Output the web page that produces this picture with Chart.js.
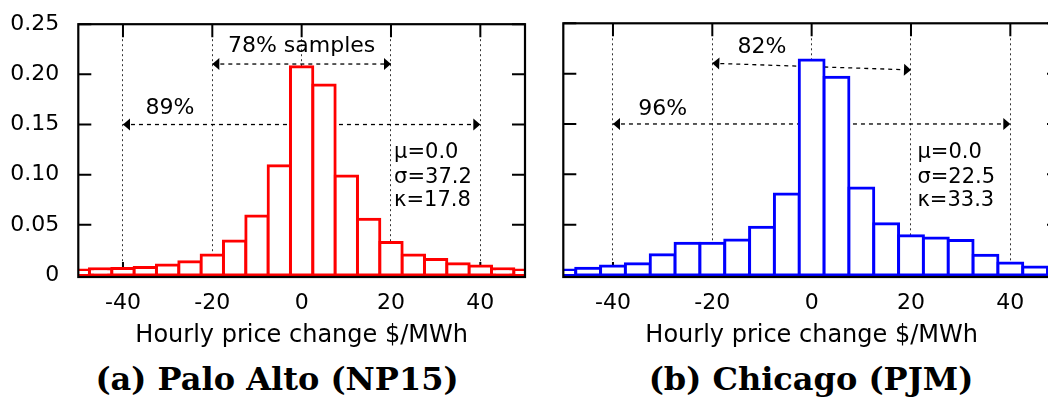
<!DOCTYPE html>
<html>
<head>
<meta charset="utf-8">
<script src="https://cdn.jsdelivr.net/npm/chart.js@4"></script>
<style>
  body { margin: 0; width: 1048px; height: 407px; overflow: hidden; position: relative; background: #fff; }
  canvas { position: absolute; top: 0; }
  #c1 { left: 0; }
  #c2 { left: 545px; }
  .cap { position: absolute; top: 361px; font: bold 32px "DejaVu Serif"; line-height: 36px; white-space: nowrap; transform: translateX(-50%); color: #000; }
</style>
</head>
<body>
<canvas id="c1" width="545" height="360"></canvas>
<canvas id="c2" width="530" height="360"></canvas>
<div class="cap" style="left:277px">(a) Palo Alto (NP15)</div>
<div class="cap" style="left:811px">(b) Chicago (PJM)</div>
<script>
// ================= DATA =================
const bins = [-50, -45, -40, -35, -30, -25, -20, -15, -10, -5, 0, 5, 10, 15, 20, 25, 30, 35, 40, 45, 50];
const paloAlto = [0.005, 0.0063, 0.0066, 0.0076, 0.0099, 0.0132, 0.020, 0.0338, 0.0589, 0.109, 0.2075,
                  0.1895, 0.0986, 0.0556, 0.0325, 0.020, 0.0155, 0.0113, 0.0089, 0.0063, 0.005];
const chicago = [0.005, 0.0066, 0.0089, 0.0112, 0.0202, 0.0315, 0.0315, 0.0348, 0.0474, 0.0805, 0.2136,
                 0.1964, 0.0863, 0.0509, 0.039, 0.0367, 0.0343, 0.0195, 0.0119, 0.0079, 0.006];

const xTicks = [-40, -20, 0, 20, 40];
const yTicks = [0, 0.05, 0.10, 0.15, 0.20, 0.25];
const yTickLabels = ["0", "0.05", "0.10", "0.15", "0.20", "0.25"];
const xTitle = "Hourly price change $/MWh";

// annotations, in data units
const paloArrows = [[-20, 0.2103, 20, 0.2103], [-40, 0.15, 40, 0.15]];
const paloNotes = [["78% samples", 0, 0.2275], ["89%", -29.5, 0.166]];
const paloStats = ["μ=0.0", "σ=37.2", "κ=17.8"];
const chiArrows = [[-20, 0.2103, 20, 0.2037], [-40, 0.15, 40, 0.15]];
const chiNotes = [["82%", -10, 0.2265], ["96%", -30, 0.165]];
const chiStats = ["μ=0.0", "σ=22.5", "κ=33.3"];
const statsY = [0.1162, 0.0914, 0.0685];

Chart.defaults.font.family = "DejaVu Sans";
Chart.defaults.color = "#000";

// ================= DRAW HELPERS =================
function head(ctx, x, y, ang) {
  const L = 7, W = 6;
  const c = Math.cos(ang), s = Math.sin(ang);
  ctx.beginPath();
  ctx.moveTo(x, y);
  ctx.lineTo(x - L * c - W * s, y - L * s + W * c);
  ctx.lineTo(x - L * c + W * s, y - L * s - W * c);
  ctx.closePath();
  ctx.fill();
}

function marks(arrows, notes, stats, statsX) {
  return {
    id: "marks",
    beforeDatasetsDraw(chart) {
      const { ctx, chartArea: a, scales: { x, y } } = chart;
      ctx.save();

      // inward tick marks
      ctx.strokeStyle = "#000";
      ctx.lineWidth = 2;
      ctx.beginPath();
      xTicks.forEach(v => {
        const px = x.getPixelForValue(v);
        ctx.moveTo(px, a.top); ctx.lineTo(px, a.top + 13);
        ctx.moveTo(px, a.bottom); ctx.lineTo(px, a.bottom - 13);
      });
      yTicks.forEach(v => {
        const py = y.getPixelForValue(v);
        ctx.moveTo(a.left, py); ctx.lineTo(a.left + 13, py);
        ctx.moveTo(a.right, py); ctx.lineTo(a.right - 13, py);
      });
      ctx.stroke();

      // dashed arrows
      ctx.fillStyle = "#000";
      arrows.forEach(([x1, y1, x2, y2]) => {
        const p1 = [x.getPixelForValue(x1), y.getPixelForValue(y1)];
        const p2 = [x.getPixelForValue(x2), y.getPixelForValue(y2)];
        ctx.lineWidth = 1.3;
        ctx.setLineDash([4, 4]);
        ctx.beginPath();
        ctx.moveTo(p1[0], p1[1]);
        ctx.lineTo(p2[0], p2[1]);
        ctx.stroke();
        ctx.setLineDash([]);
        const ang = Math.atan2(p2[1] - p1[1], p2[0] - p1[0]);
        head(ctx, p2[0], p2[1], ang);
        head(ctx, p1[0], p1[1], ang + Math.PI);
      });

      // labels
      ctx.font = "22px 'DejaVu Sans'";
      ctx.textAlign = "center";
      ctx.textBaseline = "middle";
      notes.forEach(([t, vx, vy]) => ctx.fillText(t, x.getPixelForValue(vx), y.getPixelForValue(vy)));

      ctx.font = "21px 'DejaVu Sans'";
      ctx.textAlign = "left";
      ctx.textBaseline = "alphabetic";
      stats.forEach((t, i) => ctx.fillText(t, x.getPixelForValue(statsX), y.getPixelForValue(statsY[i])));

      ctx.restore();
    },
    afterDatasetsDraw(chart) {
      const { ctx, chartArea: a } = chart;
      ctx.save();
      ctx.strokeStyle = "#000";
      ctx.lineWidth = 2.2;
      ctx.strokeRect(a.left, a.top, a.right - a.left, a.bottom + 2 - a.top);
      ctx.restore();
    }
  };
}

// ================= CHARTS =================
function makeChart(id, values, color, showY, yWidth, padRight, plugin) {
  return new Chart(document.getElementById(id), {
    type: "bar",
    data: {
      datasets: [{
        data: bins.map((b, i) => ({ x: b, y: values[i] })),
        backgroundColor: "#fff",
        borderColor: color,
        borderWidth: 3,
        borderSkipped: false,
        inflateAmount: 1.5,
        barPercentage: 1,
        categoryPercentage: 1,
        clip: { left: 0, right: 0, top: 5, bottom: 5 }
      }]
    },
    options: {
      responsive: false,
      animation: false,
      devicePixelRatio: 1,
      layout: { padding: { top: 23.3, right: padRight, bottom: 5, left: 0 } },
      plugins: { legend: { display: false }, tooltip: { enabled: false } },
      scales: {
        x: {
          type: "linear",
          min: -50,
          max: 50,
          offset: false,
          afterBuildTicks: s => { s.ticks = xTicks.map(v => ({ value: v })); },
          afterFit: s => { s.height = 80; },
          ticks: { font: { size: 22 }, padding: 15, maxRotation: 0, callback: v => String(v) },
          grid: { offset: false, drawTicks: false, color: "rgba(0,0,0,0.8)", lineWidth: 1 },
          border: { display: false, dash: [2, 3] },
          title: { display: true, text: xTitle, font: { size: 24 }, padding: { top: 0, bottom: 5 } }
        },
        y: {
          min: 0,
          max: 0.25,
          afterBuildTicks: s => { s.ticks = yTicks.map(v => ({ value: v })); },
          afterFit: s => { s.width = yWidth; },
          ticks: {
            display: showY,
            font: { size: 22 },
            padding: 11,
            callback: (v, i) => yTickLabels[i]
          },
          grid: { display: false },
          border: { display: false }
        }
      }
    },
    plugins: [plugin]
  });
}

makeChart("c1", paloAlto, "#ff0000", true, 78.3, 20, marks(paloArrows, paloNotes, paloStats, 20.7));
makeChart("c2", chicago, "#0000ff", false, 18.3, 15, marks(chiArrows, chiNotes, chiStats, 21.3));
</script>
</body>
</html>
